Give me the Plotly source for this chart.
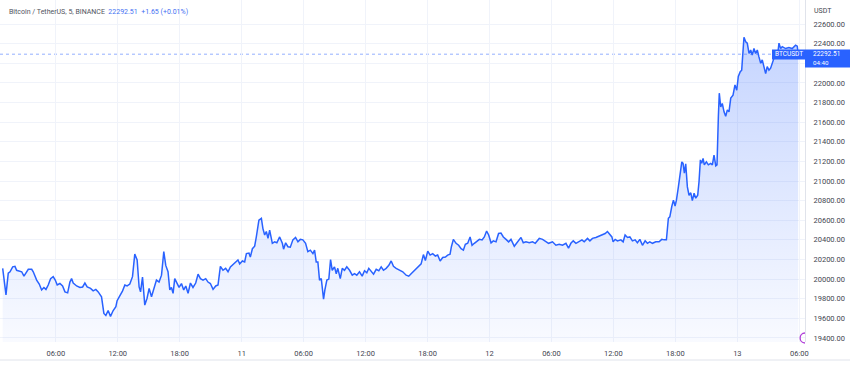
import plotly.graph_objects as go
import pandas as pd

# ---- data (hours since 2023-03-10 00:00 UTC, BTCUSDT 5-min close, traced) ----
hours = [
    0.86, 1.18, 1.40, 1.57, 1.83, 2.05, 2.21, 2.47, 2.70, 2.92, 3.11, 3.34, 3.67, 3.82,
    4.15, 4.40, 4.63, 4.85, 5.05, 5.27, 5.50, 5.75, 5.95, 6.14, 6.40, 6.66, 6.89, 7.15,
    7.37, 7.53, 7.69, 8.02, 8.34, 8.60, 8.82, 9.04, 9.37, 9.62, 9.88, 10.11, 10.43, 10.66,
    10.85, 11.07, 11.30, 11.56, 11.82, 11.94, 12.20, 12.47, 12.69, 12.91, 13.17, 13.43,
    13.65, 13.88, 14.07, 14.21, 14.40, 14.62, 14.84, 15.04, 15.27, 15.49, 15.75, 16.00,
    16.24, 16.46, 16.65, 16.87, 17.04, 17.20, 17.36, 17.52, 17.69, 17.94, 18.17, 18.39,
    18.59, 18.81, 19.04, 19.29, 19.55, 19.78, 20.01, 20.26, 20.52, 20.74, 20.97, 21.23,
    21.49, 21.71, 21.94, 22.19, 22.45, 22.68, 22.91, 23.16, 23.42, 23.64, 23.81, 24.07,
    24.29, 24.46, 24.71, 24.84, 25.04, 25.26, 25.42, 25.67, 25.91, 26.06, 26.23, 26.39,
    26.55,
    26.71, 26.97, 27.19, 27.41, 27.68, 27.94, 28.06, 28.26, 28.48, 28.71, 28.96, 29.22,
    29.45, 29.68, 29.93, 30.19, 30.41, 30.65, 30.90, 31.06, 31.22, 31.38, 31.54, 31.71,
    31.80, 31.93, 32.06, 32.25, 32.44, 32.61, 32.77, 32.99, 33.16, 33.31, 33.55, 33.74,
    33.96, 34.18, 34.45, 34.71, 34.93, 35.15, 35.41, 35.67, 35.90, 36.12, 36.31, 36.54,
    36.77, 37.03, 37.28, 37.51, 37.73, 37.99, 38.25, 38.48, 38.70, 38.96, 39.28, 39.60,
    39.93, 40.18, 40.41, 40.73, 41.05, 41.38, 41.60, 41.79, 42.02, 42.25, 42.50, 42.76,
    42.98, 43.22, 43.47, 43.73, 43.95, 44.18, 44.31, 44.50, 44.76, 45.01, 45.25, 45.47,
    45.66, 45.89, 46.12, 46.31, 46.53, 46.76, 47.02, 47.28, 47.50, 47.72, 47.92, 48.15,
    48.37, 48.63, 48.88, 49.11, 49.34, 49.60, 49.85, 50.08, 50.40, 50.62, 50.88, 51.05,
    51.27, 51.53, 51.85, 52.17, 52.43, 52.65,
    52.82, 53.14, 53.47, 53.72, 54.10, 54.43, 54.75, 55.07, 55.40, 55.65, 55.88, 56.11,
    56.37, 56.69, 56.95, 57.17, 57.49, 57.72, 57.97, 58.30, 58.62, 58.94, 59.20, 59.42,
    59.66, 59.85, 59.97, 60.17, 60.39, 60.72, 60.94, 61.13, 61.36, 61.59, 61.84, 62.10,
    62.32, 62.56, 62.81, 63.07, 63.29, 63.52, 63.78, 64.10, 64.42, 64.68, 64.91, 65.13,
    65.32, 65.46, 65.65, 65.81, 65.97, 66.10, 66.29, 66.45, 66.62, 66.74, 66.87, 67.00,
    67.16, 67.32, 67.49, 67.64, 67.81, 67.97, 68.16, 68.29, 68.42, 68.55, 68.68, 68.80,
    69.00, 69.19, 69.42, 69.58, 69.74, 69.91, 70.03, 70.16, 70.25, 70.39, 70.54, 70.71,
    70.87, 71.03, 71.19, 71.36, 71.58, 71.77, 71.94, 72.09, 72.28, 72.42, 72.54, 72.64,
    72.81, 72.96, 73.13, 73.29, 73.44, 73.61, 73.77, 73.93, 74.09, 74.26, 74.41, 74.58,
    74.74, 74.89, 75.06, 75.22, 75.38, 75.54, 75.71, 75.86, 76.03, 76.19, 76.35, 76.67,
    76.99, 77.31, 77.64, 77.80, 77.89,
]

prices = [
    20109, 19840, 20060, 20075, 20125, 20130, 20090, 20085, 20075, 20030, 20065, 20100, 20100, 20075,
    19990, 19950, 19890, 19915, 19895, 19940, 20005, 20025, 19990, 19940, 19955, 19930, 19870, 19860,
    19970, 20005, 19960, 19930, 19915, 19920, 19960, 19920, 19905, 19880, 19895, 19870, 19820, 19650,
    19630, 19680, 19620, 19680, 19720, 19780, 19830, 19880, 19940, 19930, 19950, 20025,
    20255, 20195, 19920, 19870, 20020, 19735, 19805, 19905, 19820, 19905, 19990, 19970,
    20040, 20280, 20140, 20075, 19890, 19915, 19855, 20005, 19970, 19915, 19955, 19890,
    19930, 19855, 19960, 19915, 19960, 20050, 20005, 19990, 20005, 19970, 19955, 19895,
    19930, 19940, 20130, 20090, 20110, 20075, 20125, 20150, 20175, 20195, 20155, 20185,
    20175, 20260, 20265, 20225, 20310, 20335, 20430, 20600, 20620, 20515, 20450, 20485,
    20415,
    20500, 20365, 20380, 20370, 20430, 20365, 20305, 20370, 20330, 20325, 20400, 20425,
    20380, 20405, 20400, 20365, 20280, 20295, 20260, 20295, 20175, 20175, 19990, 20005,
    19905, 19795, 19890, 19990, 20000, 20200, 20090, 20125, 20055, 20110, 20005, 20110,
    20090, 20125, 20090, 20040, 20055, 20040, 20075, 20030, 20085, 20065, 20110, 20075,
    20050, 20100, 20085, 20125, 20090, 20110, 20140, 20185, 20130, 20110, 20090, 20075,
    20040, 20030, 20055, 20090, 20125, 20155, 20250, 20190, 20285, 20245, 20260, 20235,
    20245, 20185, 20220, 20225, 20245, 20255, 20330, 20405, 20365, 20345, 20310, 20295,
    20355, 20365, 20430, 20345, 20365, 20380, 20405, 20400, 20430, 20490, 20450, 20370,
    20390, 20380, 20465, 20470, 20430, 20405, 20380, 20405, 20335, 20365, 20400, 20425,
    20370, 20380, 20370, 20380, 20365, 20390,
    20415, 20405, 20380, 20365, 20380, 20345, 20355, 20345, 20365, 20315, 20365, 20390,
    20365, 20380, 20400, 20380, 20415, 20390, 20415, 20425, 20440, 20450, 20465, 20485,
    20460, 20430, 20380, 20405, 20390, 20400, 20380, 20450, 20425, 20430, 20390, 20400,
    20370, 20405, 20345, 20390, 20365, 20380, 20365, 20380, 20380, 20405, 20400, 20400,
    20620, 20635, 20740, 20805, 20745, 20805, 20940, 21080, 21195, 21180, 21080, 21175,
    20940, 20855, 20880, 20800, 20875, 20825, 20855, 20995, 21215, 21180, 21230, 21165,
    21195, 21165, 21180, 21165, 21265, 21155, 21165, 21655, 21895, 21755, 21790, 21705,
    21660, 21725, 21705, 21845, 21875, 21980, 21925, 22065, 22115, 22130, 22300, 22465,
    22420, 22405, 22300, 22335, 22285, 22350, 22300, 22335, 22265, 22200, 22235, 22170,
    22095, 22165, 22130, 22150, 22215, 22250, 22265, 22250, 22405, 22350, 22370, 22350,
    22360, 22350, 22385, 22375, 22292.51,
]

last_price = 22292.51
price_ticks = [19400, 19600, 19800, 20000, 20200, 20400, 20600, 20800, 21000,
               21200, 21400, 21600, 21800, 22000, 22200, 22400, 22600]
hidden_tick = 22200  # its label sits under the last-price tag
time_tick_hours = [6, 12, 18, 24, 30, 36, 42, 48, 54, 60, 66, 72, 78]
time_tick_text = ["06:00", "12:00", "18:00", "11", "06:00", "12:00", "18:00",
                  "12", "06:00", "12:00", "18:00", "13", "06:00"]

# ---- build ----
base = pd.Timestamp("2023-03-10 00:00")
times = base + pd.to_timedelta(hours, unit="h")
tick_times = base + pd.to_timedelta(time_tick_hours, unit="h")

BLUE = "#2962FF"
GRID = "#f0f3fa"
TXT = "#434651"
FONT = "Roboto"

W, H = 850, 365
ML, MR, MT, MB = 0, 45, 0, 23
PW, PH = W - ML - MR, H - MT - MB
YMIN, YMAX = 19359, 22845


def px(x):
    return x / PW


def py(y):
    return (PH - y) / PH


fig = go.Figure()
fig.add_trace(go.Scatter(
    x=times, y=prices, mode="lines",
    line=dict(color=BLUE, width=1.5),
    fill="tozeroy",
    fillgradient=dict(type="vertical", start=YMIN, stop=22470,
                      colorscale=[[0, "rgba(41,98,255,0.03)"], [1, "rgba(41,98,255,0.27)"]]),
    hoverinfo="skip", showlegend=False,
))

shapes = [
    # last price dotted line
    dict(type="line", xref="paper", yref="y", x0=0, x1=1, y0=last_price, y1=last_price,
         line=dict(color="rgba(41,98,255,0.5)", width=1, dash="dot"), layer="below"),
    # BTCUSDT tag
    dict(type="rect", xref="paper", yref="paper", x0=px(772), x1=px(805), y0=py(59.5), y1=py(49.5),
         fillcolor=BLUE, line=dict(width=0), layer="above"),
    # price box on axis
    dict(type="rect", xref="paper", yref="paper", x0=1.0, x1=px(850), y0=py(67.5), y1=py(49.5),
         fillcolor=BLUE, line=dict(width=0), layer="above"),
    # bottom border
    dict(type="line", xref="paper", yref="paper", x0=0, x1=px(850), y0=py(360), y1=py(360),
         line=dict(color="#e0e3eb", width=1)),
    # purple event icon (half visible)
    dict(type="path", xref="paper", yref="paper",
         path=f"M {px(805)},{py(333)} C {px(798.5)},{py(333)} {px(798.5)},{py(343)} {px(805)},{py(343)}",
         line=dict(color="#b03fd8", width=1.3), layer="above"),
]

title_html = ("Bitcoin / TetherUS, 5, BINANCE&nbsp;&nbsp;"
              "<span style='color:#4470f2'>22292.51&nbsp;&nbsp;+1.65 (+0.01%)</span>")

annotations = [
    dict(text=title_html, x=px(7), y=py(12), xref="paper", yref="paper",
         xanchor="left", yanchor="middle", showarrow=False,
         font=dict(family=FONT, size=7, color="#50535e")),
    dict(text="USDT", x=px(812), y=py(11), xref="paper", yref="paper",
         xanchor="left", yanchor="middle", showarrow=False, font=dict(family=FONT, size=7, color=TXT)),
    dict(text="BTCUSDT", x=px(788.5), y=py(54.5), xref="paper", yref="paper",
         xanchor="center", yanchor="middle", showarrow=False, font=dict(family=FONT, size=6.5, color="white")),
    dict(text=f"{last_price:.2f}", x=px(811), y=py(54.3), xref="paper", yref="paper",
         xanchor="left", yanchor="middle", showarrow=False, font=dict(family=FONT, size=6.5, color="white")),
    dict(text="04:40", x=px(811), y=py(63), xref="paper", yref="paper",
         xanchor="left", yanchor="middle", showarrow=False, font=dict(family=FONT, size=6.2, color="white")),
]

fig.update_layout(
    width=W, height=H,
    margin=dict(l=ML, r=MR, t=MT, b=MB),
    paper_bgcolor="white", plot_bgcolor="white",
    font=dict(family=FONT, size=7.5, color=TXT),
    shapes=shapes, annotations=annotations,
    xaxis=dict(
        type="date",
        range=[base + pd.Timedelta(hours=0.6), base + pd.Timedelta(hours=78.55)],
        tickvals=tick_times, ticktext=time_tick_text,
        showgrid=True, gridcolor=GRID, gridwidth=1,
        ticks="outside", ticklen=4, tickcolor="rgba(0,0,0,0)",
        tickfont=dict(family=FONT, size=7.5, color=TXT),
        showline=False, zeroline=False, fixedrange=True,
    ),
    yaxis=dict(
        side="right", range=[YMIN, YMAX],
        tickvals=price_ticks,
        ticktext=["" if v == hidden_tick else f"{v:.2f}" for v in price_ticks],
        showgrid=True, gridcolor=GRID, gridwidth=1,
        ticks="outside", ticklen=6, tickcolor="rgba(0,0,0,0)",
        tickfont=dict(family=FONT, size=7.5, color=TXT),
        showline=True, linecolor="#e0e3eb", linewidth=1,
        zeroline=False, fixedrange=True,
    ),
)

fig.write_html("out.html")
